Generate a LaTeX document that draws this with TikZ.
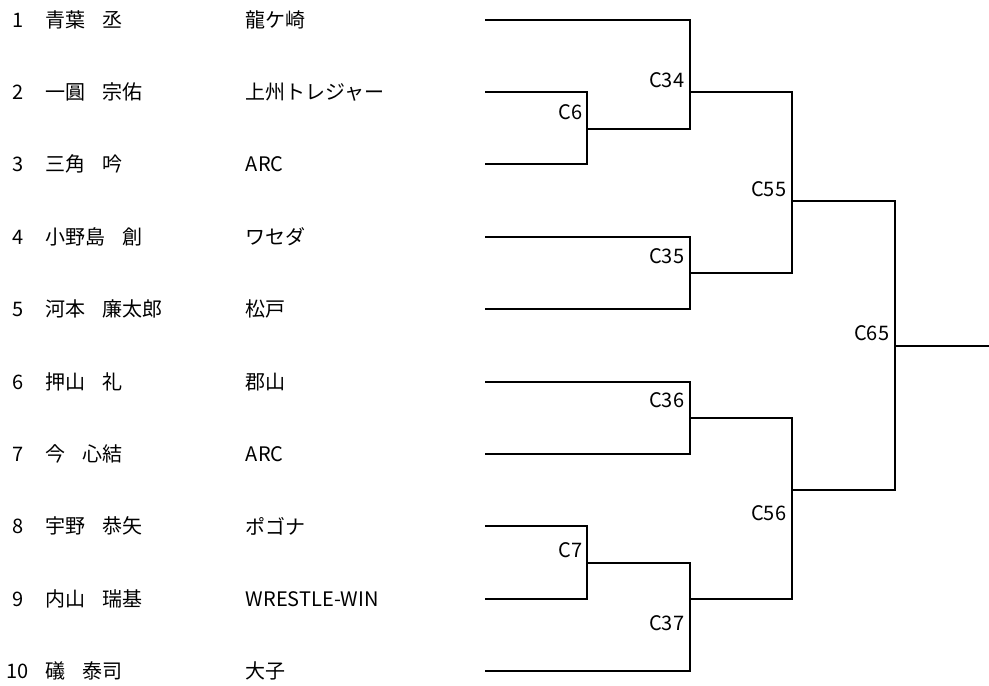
\documentclass[tikz,border=0pt]{standalone}
\usepackage{fontspec}
\setmainfont{Noto Sans CJK JP}
\usetikzlibrary{positioning}
\newcommand{\jsp}{\hspace{17pt}}

\begin{document}
\begin{tikzpicture}[x=1pt, y=-1pt, line width=1.7pt, font=\fontsize{20}{24}\selectfont,
    num/.style={inner sep=0pt},
    entry/.style={anchor=west, inner sep=0pt},
    mlabel/.style={anchor=east, inner sep=0pt}]
    \useasboundingbox (0,0) rectangle (989,686);

    % entries: number, name, team, start of the line
    \node[num] (n1) at (18,20) {1};  \node[entry] (m1) at (45,20) {青葉\jsp 丞};       \node[entry] (t1) at (245,20) {龍ケ崎};
    \node[num] (n2) at (18,92) {2};  \node[entry] (m2) at (45,92) {一圓\jsp 宗佑};     \node[entry] (t2) at (245,92) {上州トレジャー};
    \node[num] (n3) at (18,164) {3}; \node[entry] (m3) at (45,164) {三角\jsp 吟};      \node[entry] (t3) at (245,164) {ARC};
    \node[num] (n4) at (18,237) {4}; \node[entry] (m4) at (45,237) {小野島\jsp 創};    \node[entry] (t4) at (245,237) {ワセダ};
    \node[num] (n5) at (18,309) {5}; \node[entry] (m5) at (45,309) {河本\jsp 廉太郎};  \node[entry] (t5) at (245,309) {松戸};
    \node[num] (n6) at (18,382) {6}; \node[entry] (m6) at (45,382) {押山\jsp 礼};      \node[entry] (t6) at (245,382) {郡山};
    \node[num] (n7) at (18,454) {7}; \node[entry] (m7) at (45,454) {今\jsp 心結};      \node[entry] (t7) at (245,454) {ARC};
    \node[num] (n8) at (18,526) {8}; \node[entry] (m8) at (45,526) {宇野\jsp 恭矢};    \node[entry] (t8) at (245,526) {ポゴナ};
    \node[num] (n9) at (18,599) {9}; \node[entry] (m9) at (45,599) {内山\jsp 瑞基};    \node[entry] (t9) at (245,599) {WRESTLE-WIN};
    \node[num] (n10) at (18,671) {10}; \node[entry] (m10) at (45,671) {礒\jsp 泰司};   \node[entry] (t10) at (245,671) {大子};

    \coordinate (e1) at (485,20);  \coordinate (e2) at (485,92);  \coordinate (e3) at (485,164);
    \coordinate (e4) at (485,237); \coordinate (e5) at (485,309); \coordinate (e6) at (485,382);
    \coordinate (e7) at (485,454); \coordinate (e8) at (485,526); \coordinate (e9) at (485,599);
    \coordinate (e10) at (485,671);

    % match points
    \coordinate (c6) at (587,129);
    \coordinate (c7) at (587,563);
    \coordinate (c34) at (690,92);
    \coordinate (c35) at (690,273);
    \coordinate (c36) at (690,418);
    \coordinate (c37) at (690,599);
    \coordinate (c55) at (792,201);
    \coordinate (c56) at (792,490);
    \coordinate (c65) at (895,346);
    \coordinate (win) at (989,346);

    \draw (e2) -| (c6) |- (e3);
    \draw (e8) -| (c7) |- (e9);
    \draw (e1) -| (c34) |- (c6);
    \draw (e4) -| (c35) |- (e5);
    \draw (e6) -| (c36) |- (e7);
    \draw (c7) -| (c37) |- (e10);
    \draw (c34) -| (c55) |- (c35);
    \draw (c36) -| (c56) |- (c37);
    \draw (c55) -| (c65) |- (c56);
    \draw (c65) -- (win);

    \node[mlabel] (l6) at (583,112) {C6};
    \node[mlabel] (l7) at (583,550) {C7};
    \node[mlabel] (l34) at (685,80) {C34};
    \node[mlabel] (l35) at (685,256) {C35};
    \node[mlabel] (l36) at (685,400) {C36};
    \node[mlabel] (l37) at (685,623) {C37};
    \node[mlabel] (l55) at (787,189) {C55};
    \node[mlabel] (l56) at (787,513) {C56};
    \node[mlabel] (l65) at (890,333) {C65};
\end{tikzpicture}
\end{document}
